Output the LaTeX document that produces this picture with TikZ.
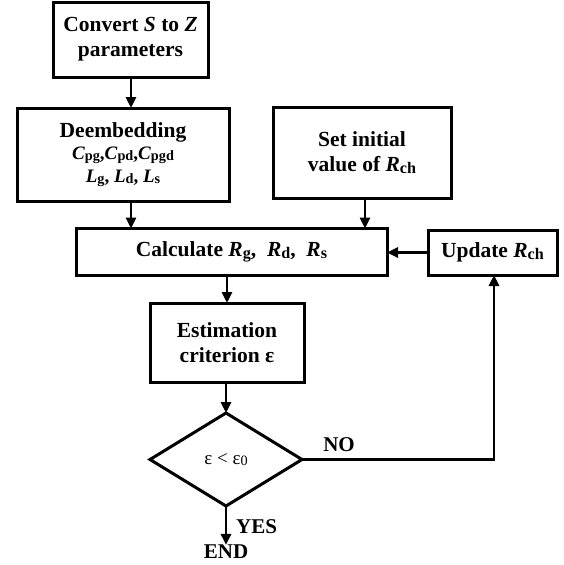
\documentclass[tikz,border=0pt]{standalone}
\usepackage{fontspec}
\setmainfont{Liberation Serif}
\usetikzlibrary{shapes.geometric,arrows.meta}
\newcommand\lo[1]{\raisebox{-0.15ex}{\scalebox{0.75}{#1}}}
\begin{document}
\begin{tikzpicture}[x=1pt,y=-1pt,
  box/.style={draw,line width=3pt,inner sep=0pt,outer sep=0pt,align=center,
    font=\fontsize{21.5}{25}\selectfont\bfseries},
  arr/.style={line width=2.8pt,-{Triangle[length=11pt,width=10pt]}},
  lab/.style={inner sep=0pt,font=\fontsize{21}{24}\selectfont\bfseries}]
\useasboundingbox (0,0) rectangle (563,565);
\node[box,minimum width=155,minimum height=75] (conv) at (130.5,39.5)
  {Convert \textit{S} to \textit{Z}\\parameters};
\node[box,minimum width=212,minimum height=93] (deemb) at (123,154.5)
  {Deembedding\\[-3pt]{\fontsize{19}{22}\selectfont\textit{C}\lo{pg},\textit{C}\lo{pd},\textit{C}\lo{pgd}}\\[-2pt]
   {\fontsize{19}{22}\selectfont\textit{L}\lo{g}, \textit{L}\lo{d}, \textit{L}\lo{s}}};
\node[box,minimum width=178,minimum height=91] (init) at (362,152.5)
  {Set initial\\value of \textit{R}\lo{ch}};
\node[box,minimum width=311,minimum height=47] (calc) at (231.5,252)
  {Calculate \textit{R}\lo{g}, \ \textit{R}\lo{d}, \ \textit{R}\lo{s}};
\node[box,minimum width=129,minimum height=45] (upd) at (492.5,252.5)
  {Update \textit{R}\lo{ch}};
\node[box,minimum width=154,minimum height=79] (est) at (227,342.5)
  {Estimation\\criterion ε};
\node[box,shape=diamond,minimum width=152,minimum height=93,
  font=\fontsize{19}{22}\selectfont] (dec) at (226,459.5) {ε < ε\lo{0}};
\node[lab] (end) at (226,552) {END};
\node[lab,anchor=west] (yes) at (236,527) {YES};
\node[lab] (no) at (339,445) {NO};
\coordinate (corner) at (494,459.5);
\draw[arr] (conv.south -| 131,0) -- (deemb.north -| 131,0);
\draw[arr] (deemb.south -| 131,0) -- (calc.north -| 131,0);
\draw[arr] (init.south -| 365,0) -- (calc.north -| 365,0);
\draw[arr] (upd.west) -- (calc.east |- upd.west);
\draw[arr] (calc.south -| est.north) -- (est.north);
\draw[arr] (est.south -| dec.north) -- (dec.north);
\draw[arr] (dec.south) -- (end.north);
\draw[arr] (dec.east) -- (corner) -- (upd.south -| corner);
\end{tikzpicture}
\end{document}
